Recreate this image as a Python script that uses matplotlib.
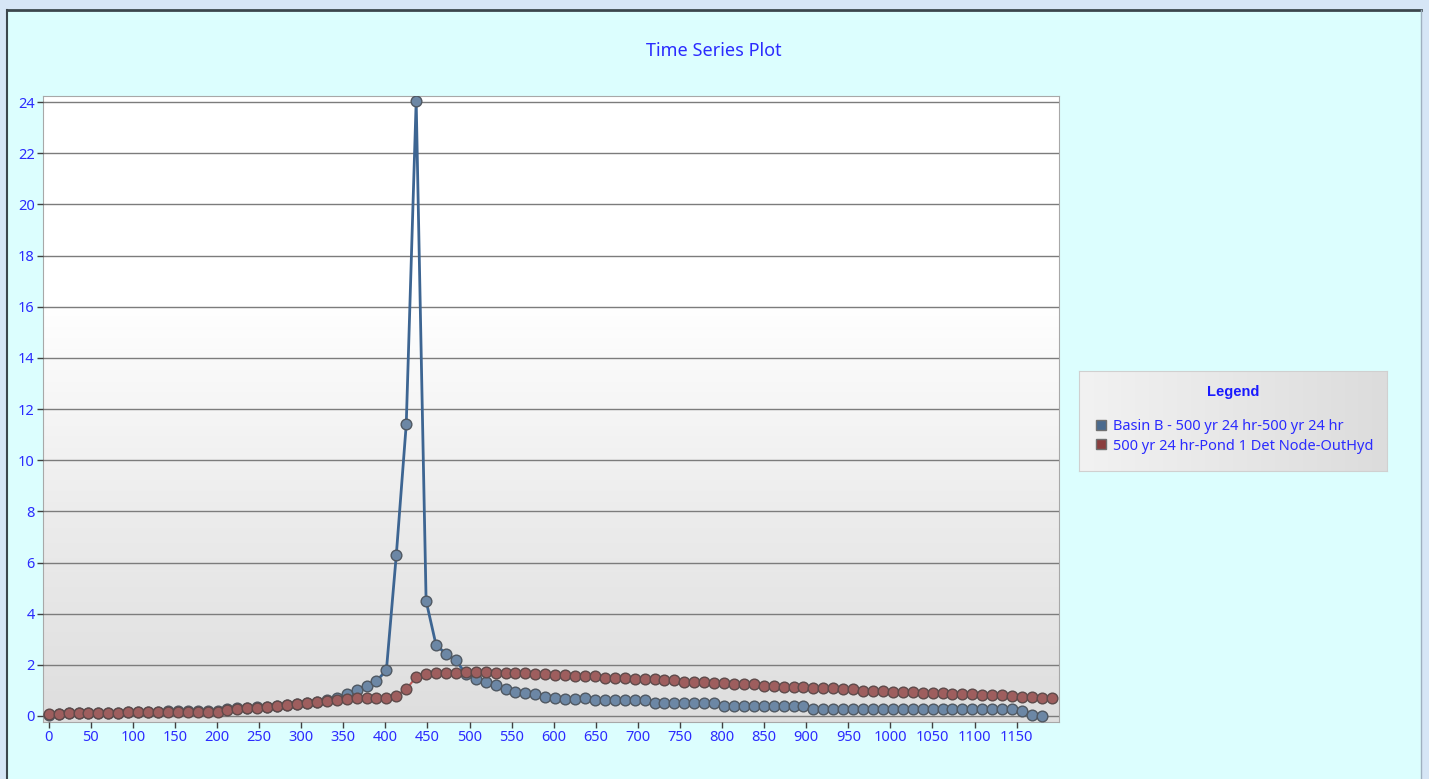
import numpy as np
import matplotlib.pyplot as plt
from matplotlib.lines import Line2D
from matplotlib.patches import Rectangle

plt.rcParams['font.family'] = ['Noto Sans', 'DejaVu Sans']

# time step between points (minutes)
step = 11.8

# Basin B - 500 yr 24 hr-500 yr 24 hr
basin_flow = [0.05, 0.06, 0.10, 0.10, 0.10, 0.10, 0.10, 0.10, 0.15, 0.15, 0.15, 0.15,
              0.20, 0.20, 0.20, 0.20, 0.20, 0.20,
              0.27, 0.30, 0.32, 0.34, 0.36, 0.39, 0.42, 0.46, 0.50, 0.55, 0.62, 0.72,
              0.86, 1.02, 1.17, 1.37, 1.78, 6.30, 11.40, 24.05, 4.50, 2.78, 2.43, 2.17,
              1.65, 1.46, 1.32, 1.20, 1.04, 0.95, 0.90, 0.85, 0.74, 0.69, 0.65, 0.65, 0.72,
              0.61, 0.61, 0.61, 0.61, 0.61, 0.61,
              0.51, 0.51, 0.51, 0.51, 0.51, 0.51, 0.51,
              0.40, 0.40, 0.40, 0.40, 0.40, 0.40, 0.40, 0.40, 0.41,
              0.29, 0.29, 0.29, 0.29, 0.29, 0.29, 0.29, 0.29, 0.29, 0.29, 0.29,
              0.29, 0.29, 0.29, 0.29, 0.29, 0.29, 0.29, 0.29, 0.29, 0.29,
              0.20, 0.05, 0.00]

# 500 yr 24 hr-Pond 1 Det Node-OutHyd
pond_flow = [0.06, 0.06, 0.10, 0.10, 0.10, 0.10, 0.10, 0.10, 0.14, 0.14, 0.14, 0.14,
             0.17, 0.17, 0.17, 0.17, 0.17, 0.17,
             0.22, 0.27, 0.30, 0.33, 0.35, 0.38, 0.42, 0.45, 0.50, 0.53, 0.58, 0.63,
             0.66, 0.70, 0.72, 0.72, 0.72, 0.80, 1.05, 1.52, 1.64, 1.70, 1.70, 1.70,
             1.71, 1.71, 1.71, 1.70, 1.68, 1.67, 1.67, 1.66, 1.63, 1.62,
             1.60, 1.56, 1.56, 1.56, 1.50, 1.50, 1.50, 1.43, 1.43, 1.43,
             1.39, 1.39, 1.34, 1.34, 1.34, 1.30, 1.30, 1.25, 1.25, 1.25,
             1.19, 1.19, 1.15, 1.15, 1.15, 1.08, 1.08, 1.08, 1.04, 1.04,
             0.99, 0.99, 0.99, 0.95, 0.95, 0.95, 0.91, 0.91, 0.91, 0.86,
             0.86, 0.86, 0.82, 0.82, 0.82, 0.78, 0.75, 0.75, 0.72, 0.72]

basin_t = np.arange(len(basin_flow)) * step
pond_t = np.arange(len(pond_flow)) * step

series_names = ["Basin B - 500 yr 24 hr-500 yr 24 hr",
                "500 yr 24 hr-Pond 1 Det Node-OutHyd"]

blue_txt = '#2b2bff'
W, H = 1429, 779
fig = plt.figure(figsize=(W / 100, H / 100), dpi=100, facecolor='#dcfefe')

# window frame
fig.patches.append(Rectangle((0, 1 - 9 / H), 1, 9 / H, transform=fig.transFigure,
                             facecolor='#d6e6f6', edgecolor='none'))
fig.patches.append(Rectangle((1421 / W, 0), 8 / W, 1, transform=fig.transFigure,
                             facecolor='#d6e6f6', edgecolor='none'))
fig.patches.append(Rectangle((0, 0), 6 / W, 1, transform=fig.transFigure,
                             facecolor='#d6e6f6', edgecolor='none'))
fig.add_artist(Line2D([6.5 / W, 1420.5 / W], [1 - 10 / H, 1 - 10 / H], transform=fig.transFigure,
                      color='#3c474d', lw=2))
fig.add_artist(Line2D([7 / W, 7 / W], [0, 1 - 10 / H], transform=fig.transFigure,
                      color='#3c474d', lw=1.5))
fig.add_artist(Line2D([1420.5 / W, 1420.5 / W], [0, 1 - 10 / H], transform=fig.transFigure,
                      color='#9fb0c0', lw=1))

fig.text(714 / W, 1 - 51 / H, "Time Series Plot", color=blue_txt, fontsize=13,
         ha='center', va='center')

ax = fig.add_axes([43 / W, 1 - 722 / H, 1016 / W, 626 / H])
grad = np.linspace(1, 0, 256).reshape(-1, 1)
ax.imshow(grad, extent=[0, 1, 0, 1], transform=ax.transAxes, aspect='auto',
          cmap=plt.matplotlib.colors.LinearSegmentedColormap.from_list(
              'bg', ['#dedede', '#ececec', '#ffffff', '#ffffff']),
          zorder=0)

ax.plot(basin_t, basin_flow, color='#3d6592', lw=2, marker='o', markersize=7.7,
        markerfacecolor='#6c87a5', markeredgecolor='#4f5862', markeredgewidth=1,
        zorder=3, label=series_names[0])
ax.plot(pond_t, pond_flow, color='#c05858', lw=1.5, marker='o', markersize=7.7,
        markerfacecolor='#9e5e5e', markeredgecolor='#5e4a4a', markeredgewidth=1,
        zorder=4, label=series_names[1])

ax.set_xlim(-6.8, 1200.4)
ax.set_ylim(-0.235, 24.24)
ax.set_xticks(np.arange(0, 1151, 50))
ax.set_yticks(np.arange(0, 25, 2))
ax.yaxis.grid(True, color='#7c7c7c', lw=1)
ax.set_axisbelow(False)
for gl in ax.get_ygridlines():
    gl.set_zorder(1)
ax.tick_params(colors='#404040', labelcolor=blue_txt, labelsize=10.5, length=4, width=1,
               pad=2)
for s in ax.spines.values():
    s.set_color('#a8a8a8')

# legend box
lax = fig.add_axes([1079 / W, 1 - 471 / H, 308 / W, 100 / H])
lgrad = np.linspace(0, 1, 256).reshape(1, -1)
lax.imshow(lgrad, extent=[0, 1, 0, 1], aspect='auto',
           cmap=plt.matplotlib.colors.LinearSegmentedColormap.from_list(
               'lg', ['#f2f2f2', '#dcdcdc']))
lax.set_xticks([])
lax.set_yticks([])
for s in lax.spines.values():
    s.set_color('#d0d0d0')
handles = [Line2D([], [], ls='none', marker='s', markersize=6.5, markerfacecolor='#4a6a8e',
                  markeredgecolor='#707070'),
           Line2D([], [], ls='none', marker='s', markersize=6.5, markerfacecolor='#8a3e3e',
                  markeredgecolor='#707070')]
lax.text(0.5, 0.79, "Legend", transform=lax.transAxes, ha='center', va='center',
         color='#1a1aff', fontsize=10.5, fontweight='bold',
         family=['Liberation Sans', 'DejaVu Sans'])
leg = lax.legend(handles, series_names, loc='upper left', bbox_to_anchor=(0.02, 0.62),
                 frameon=False, fontsize=10.5, handlelength=0.8, handletextpad=0.4,
                 labelspacing=0.3, borderaxespad=0.3)
for t in leg.get_texts():
    t.set_color(blue_txt)

fig.savefig('out.png', dpi=100, facecolor=fig.get_facecolor())
